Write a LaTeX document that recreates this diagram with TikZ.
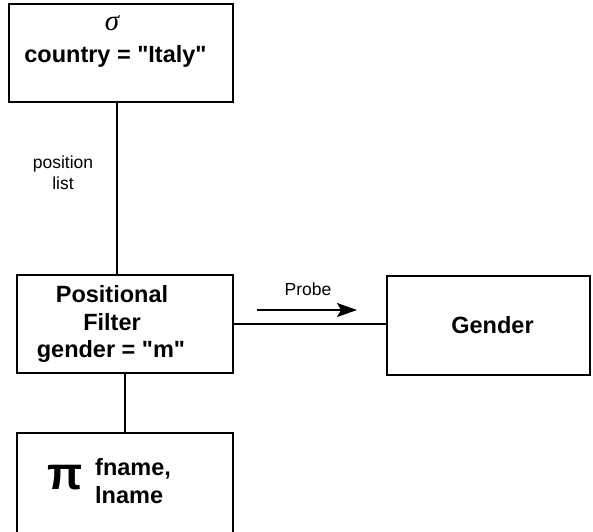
\documentclass[tikz,border=0pt]{standalone}
\usepackage{fontspec}
\setmainfont{Liberation Sans}[Ligatures=TeXOff]
\newfontfamily\greekserif{Liberation Serif}
\usetikzlibrary{arrows.meta}
\begin{document}
\begin{tikzpicture}[x=1pt,y=-1pt,
  opbox/.style={draw, line width=1.5pt, rectangle, inner sep=0pt},
  boldtext/.style={font=\fontsize{23.5}{28}\selectfont\bfseries, anchor=base, inner sep=0pt},
  smalltext/.style={font=\fontsize{17.5}{21}\selectfont, anchor=base, inner sep=0pt},
  link/.style={line width=1.5pt}]
\useasboundingbox (0,0) rectangle (593,531);
% operator boxes
\node[opbox, minimum width=224pt, minimum height=98pt] (sel) at (121,53) {};
\node[opbox, minimum width=216pt, minimum height=98pt] (pf) at (125,324) {};
\node[opbox, minimum width=203pt, minimum height=99pt] (gen) at (488.5,325.5) {};
\node[opbox, minimum width=216pt, minimum height=112pt] (proj) at (125,489) {};
% selection
\node[font=\fontsize{29}{29}\selectfont\greekserif\itshape, anchor=base, inner sep=0pt] (sig) at (112,30) {σ};
\node[boldtext] (cty) at (115.5,62) {country = "Italy"};
% positional filter
\node[boldtext] (pf1) at (112,302) {Positional};
\node[boldtext] (pf2) at (112,330) {Filter};
\node[boldtext] (pf3) at (111,357) {gender = "m"};
% probed column
\node[boldtext] (gt) at (492.5,333) {Gender};
% projection
\node[font=\fontsize{46}{46}\selectfont\bfseries, anchor=base, inner sep=0pt] (pi) at (65,489) {π};
\node[boldtext, anchor=base west] (fn) at (95,475) {fname,};
\node[boldtext, anchor=base west] (ln) at (95,503) {lname};
% connectors
\coordinate (c1) at (117,102);
\coordinate (c2) at (117,275);
\draw[link] (c1) -- (c2);
\node[smalltext] (pl1) at (63,168) {position};
\node[smalltext] (pl2) at (63,189) {list};
\draw[link] (pf.south) -- (proj.north);
\draw[link] (pf.east) -- (pf.east -| gen.west);
\coordinate (a1) at (257,310);
\coordinate (a2) at (357,310);
\draw[link, -{Stealth[length=20pt,width=14pt,inset=4pt]}] (a1) -- (a2);
\node[smalltext] (probe) at (308,295) {Probe};
\end{tikzpicture}
\end{document}
